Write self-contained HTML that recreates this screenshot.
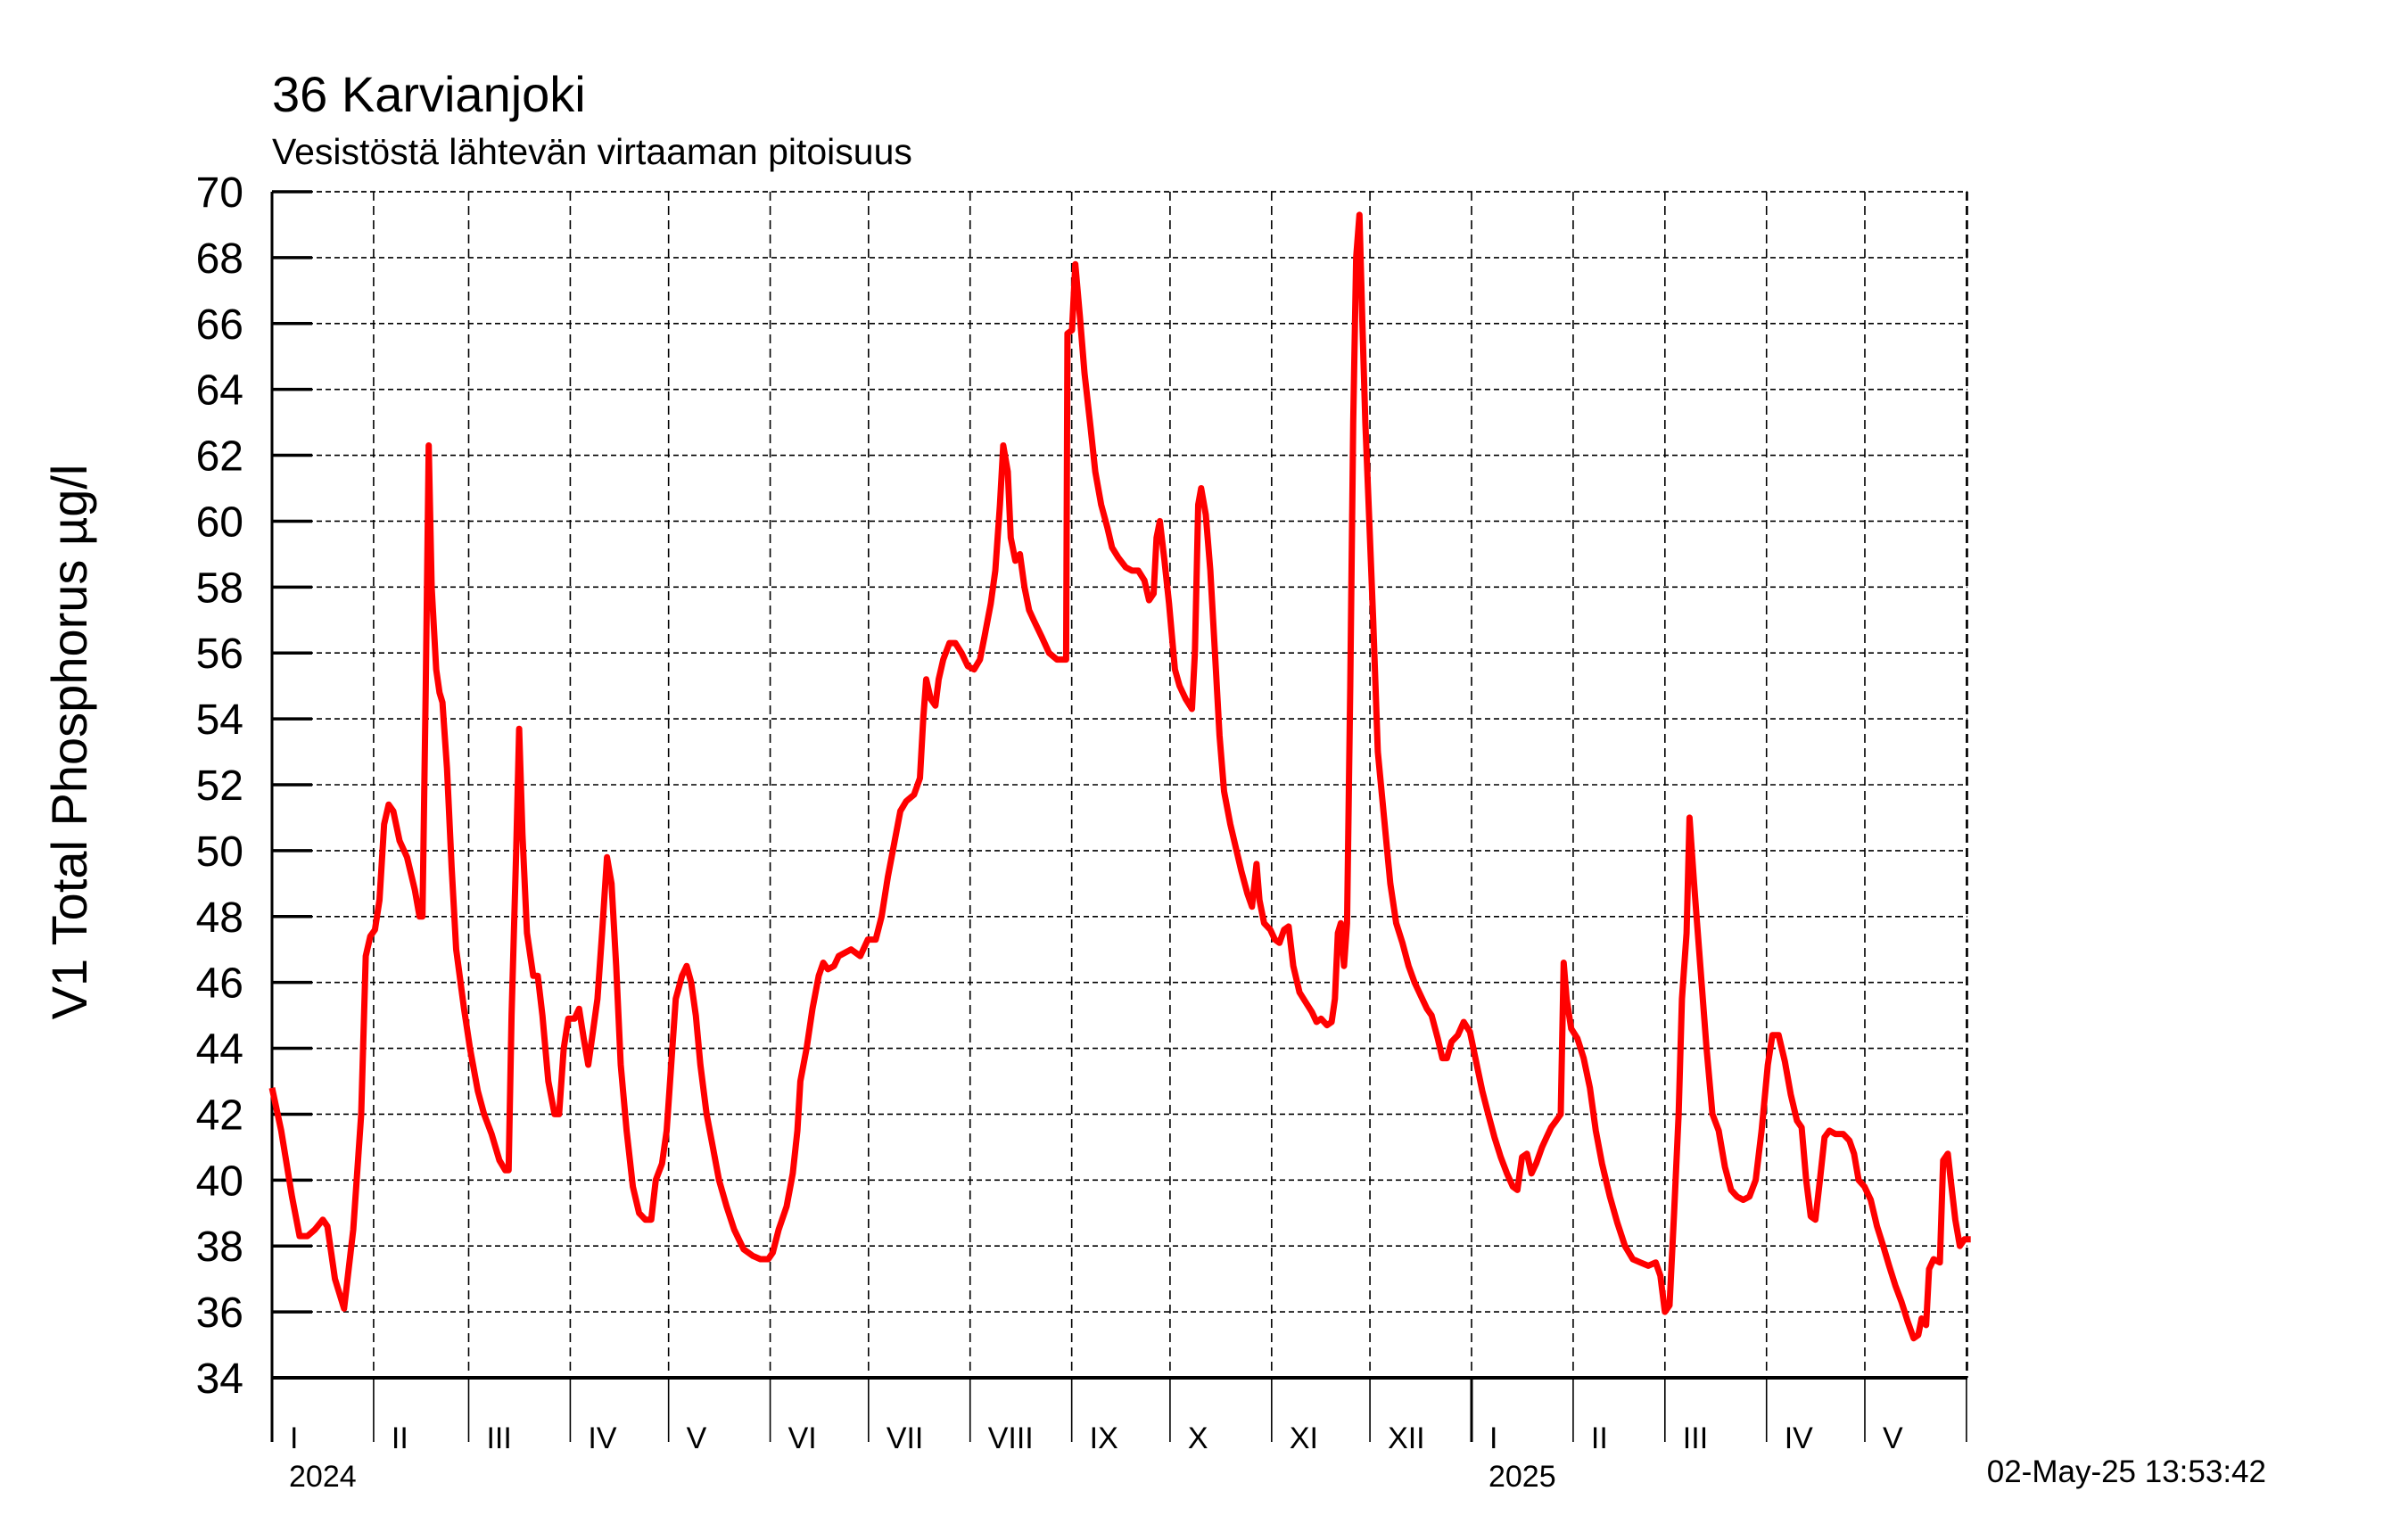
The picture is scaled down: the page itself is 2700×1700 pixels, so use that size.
<!DOCTYPE html>
<html><head><meta charset="utf-8">
<style>
html,body{margin:0;padding:0;background:#fff;}
svg{display:block;font-family:"Liberation Sans",sans-serif;}
</style></head>
<body>
<svg id="chart" width="2700" height="1700" viewBox="0 0 2700 1700" xmlns="http://www.w3.org/2000/svg">
<text x="305" y="125" font-size="56">36 Karvianjoki</text>
<text x="305" y="184" font-size="41">Vesistöstä lähtevän virtaaman pitoisuus</text>
<text transform="translate(97,832) rotate(-90)" text-anchor="middle" font-size="56">V1 Total Phosphorus µg/l</text>
<text x="2541" y="1662" text-anchor="end" font-size="35">02-May-25 13:53:42</text>
<g id="grid"></g><g id="axes"></g><g id="series"></g>
</svg>
<script>
const yTicks=[34,36,38,40,42,44,46,48,50,52,54,56,58,60,62,64,66,68,70];
const monthStarts=[0,31,60,91,121,152,182,213,244,274,305,335,366,397,425,456,486,517];
const monthLabels=["I","II","III","IV","V","VI","VII","VIII","IX","X","XI","XII","I","II","III","IV","V"];
const yearLabels=["2024","2025"];
const yearStarts=[0,366];
const days=[0,2.8,6.1,8.4,10.8,13.1,15.5,16.9,19.2,22,24.8,27.2,28.6,30,31.4,32.8,34.2,35.6,37,38.9,41.2,43.6,45,45.9,46.9,47.8,48.7,50.1,51.1,52,53.4,54.8,56.2,58.6,60.4,62.8,64.7,67,69.4,71.2,72.2,73.1,74.5,75.4,76.4,77.8,79.7,81.1,82.5,84.3,86.2,87.6,89,90.4,92.3,93.7,95.1,96.5,97.9,99.3,100.7,102.2,103.6,105,106.4,108.2,110.1,112,113.9,115.7,117.1,119,120.4,121.8,123.2,125.1,126.5,127.9,129.3,130.7,132.6,134.5,136.4,138.7,141,143.9,146.7,149,151.4,152.8,154.6,157,158.9,160.3,161.2,163.1,164.9,166.8,168.2,169.6,171.5,172.9,174.8,176.7,179.5,181.8,184.2,186,187.9,189.8,191.7,193.5,195.9,197.7,198.7,199.6,201,202.4,203.4,204.8,206.7,208.5,210.4,212.3,214.2,216,217.4,219.3,220.7,222.1,223.1,224.5,225.4,226.8,228.2,229.6,231,232.4,234.8,237.1,239.5,242.3,242.7,244.1,245.1,246.5,247.9,249.8,251.2,253,254.9,256.3,258.2,260.5,262.4,264.3,266.2,267.6,269,269.9,270.9,272.3,273.7,275.5,276.9,278.8,280.7,281.6,282.6,283.5,284.9,286.3,287.7,289.1,290.5,292.4,294.3,295.7,297.6,299,300.4,301.3,302.7,304.6,306,307.4,308.8,310.2,311.6,313.5,315.4,317.3,318.7,320.1,321.9,323.3,324.3,325.2,326.1,327.1,328,329,329.9,330.8,331.8,332.7,333.6,334.6,336,337.4,339.3,341.2,343,344.9,346.8,348.6,350.5,352.4,353.8,355.7,357.1,358.5,359.9,361.8,363.6,365.5,367.4,369.3,371.1,373,374.9,376.8,378.6,380,381.4,382.9,384.3,385.7,387.5,388.9,390.3,391.8,393.2,394.1,395,396.4,398.3,400.2,402.1,403.9,405.8,408.2,410.5,412.8,415.2,417.5,419.9,422.2,423.6,425,426.4,427.8,429.2,430.2,431.6,432.5,433.9,435.8,437.7,439.5,441.4,443.3,445.2,447,448.9,450.8,452.7,454.5,456.4,457.8,459.7,461.6,463.4,465.3,466.7,468.1,469.5,470.9,472.3,473.7,475.2,477,479.4,481.3,482.7,484.1,485.9,487.8,489.7,491.6,493.4,495.3,497.2,499.1,500.9,502.3,503.3,504.7,505.6,507,508.9,509.9,511.3,512.2,513.6,515,516.4,518.3];
const values=[42.8,41.5,39.5,38.3,38.3,38.5,38.8,38.6,37,36.1,38.5,42,46.8,47.4,47.6,48.5,50.8,51.4,51.2,50.3,49.8,48.8,48,48,55,62.3,58,55.5,54.8,54.5,52.5,49.5,47,45.2,44,42.7,42,41.4,40.6,40.3,40.3,45,50,53.7,50.5,47.5,46.2,46.2,45,43,42,42,44,44.9,44.9,45.2,44.3,43.5,44.5,45.5,47.5,49.8,49,46.5,43.5,41.5,39.8,39,38.8,38.8,40,40.5,41.5,43.5,45.5,46.2,46.5,46,45,43.5,42,41,40,39.2,38.5,37.9,37.7,37.6,37.6,37.8,38.5,39.2,40.2,41.5,43,44,45.2,46.2,46.6,46.4,46.5,46.8,46.9,47,46.8,47.3,47.3,48,49.2,50.2,51.2,51.5,51.7,52.2,54,55.2,54.6,54.4,55.2,55.8,56.3,56.3,56,55.6,55.5,55.8,56.5,57.5,58.5,60.5,62.3,61.5,59.5,58.8,59,58,57.3,57,56.5,56,55.8,55.8,65.7,65.8,67.8,66.2,64.5,62.8,61.5,60.5,59.8,59.2,58.9,58.6,58.5,58.5,58.2,57.6,57.8,59.5,60,58.8,57.5,55.5,55,54.6,54.3,56,60.5,61,60.2,58.5,56,53.5,51.8,50.8,50,49.4,48.7,48.3,49.6,48.5,47.8,47.6,47.3,47.2,47.6,47.7,46.5,45.7,45.4,45.1,44.8,44.9,44.7,44.8,45.5,47.5,47.8,46.5,47.8,55,63,68,69.3,66,63,60.5,57,53,51,49,47.8,47.2,46.5,46,45.6,45.2,45,44.3,43.7,43.7,44.2,44.4,44.8,44.5,43.6,42.7,42,41.3,40.7,40.2,39.8,39.7,40.7,40.8,40.2,40.5,41,41.3,41.6,41.8,42,46.6,45.5,44.6,44.3,43.7,42.8,41.5,40.5,39.5,38.7,38,37.6,37.5,37.4,37.5,37.1,36,36.2,39,42,45.5,47.5,51,49,46.5,44,42,41.5,40.4,39.7,39.5,39.4,39.5,40,41.5,43.5,44.4,44.4,43.6,42.6,41.8,41.6,40,38.9,38.8,40,41.3,41.5,41.4,41.4,41.2,40.8,40,39.8,39.4,38.6,38,37.4,36.8,36.3,35.7,35.2,35.3,35.8,35.6,37.3,37.6,37.5,40.6,40.8,40,38.8,38,38.2,38.2];

const NS="http://www.w3.org/2000/svg";
const L=305,R=2206,T=215,B=1545,D0=0,D1=517.3,V0=34,V1=70;
const xs=d=>L+(d-D0)/(D1-D0)*(R-L);
const ys=v=>B-(v-V0)/(V1-V0)*(B-T);
function mk(tag,attrs,parent,txt){const e=document.createElementNS(NS,tag);for(const k in attrs)e.setAttribute(k,attrs[k]);if(txt!==undefined)e.textContent=txt;parent.appendChild(e);return e;}
const grid=document.getElementById('grid'),axes=document.getElementById('axes'),series=document.getElementById('series');

yTicks.forEach(v=>{
  const y=ys(v);
  if(v>V0){const g=mk('line',{x1:L,x2:R,y1:y,y2:y,stroke:'#000','stroke-width':1.6,'stroke-dasharray':'6 4'},grid);
  
  }
  const t=mk('line',{x1:L,x2:L+45,y1:y,y2:y,stroke:'#000','stroke-width':3.5},axes);
  
  
  const lb=mk('text',{x:273,y:y+17,'text-anchor':'end','font-size':48},axes,String(v));
  
  
});
monthStarts.forEach((d,i)=>{
  const x=xs(d);
  if(i>0){const g=mk('line',{x1:x,x2:x,y1:T,y2:B,stroke:'#000','stroke-width':1.6,'stroke-dasharray':'10 6'},grid);
  
  }
  const s=mk('line',{x1:x,x2:x,y1:B,y2:1617,stroke:'#000','stroke-width':(d===366?3:1.6)},axes);
  
  
  if(i<monthLabels.length){const lb=mk('text',{x:x+20,y:1624,'font-size':34},axes,monthLabels[i]);
  
  }
});
yearLabels.forEach((yl,i)=>{
  const lb=mk('text',{x:xs(yearStarts[i])+19,y:1667,'font-size':34},axes,yl);
  
  
});
const ax=mk('line',{x1:L,x2:L,y1:T,y2:1617,stroke:'#000','stroke-width':3},axes);


const bx=mk('line',{x1:L,x2:R,y1:B,y2:B,stroke:'#000','stroke-width':4},axes);


const tp=mk('line',{x1:L,x2:R,y1:T,y2:T,stroke:'#000','stroke-width':1.6,'stroke-dasharray':'6 4'},grid);


const rb=mk('line',{x1:R,x2:R,y1:T,y2:B,stroke:'#000','stroke-width':1.6,'stroke-dasharray':'10 6'},grid);



const pts=days.map((d,i)=>xs(d).toFixed(1)+','+ys(values[i]).toFixed(1)).join(' ');
const pl=mk('polyline',{points:pts,fill:'none',stroke:'#ff0000','stroke-width':7,'stroke-linejoin':'round'},series);


</script>
</body></html>
